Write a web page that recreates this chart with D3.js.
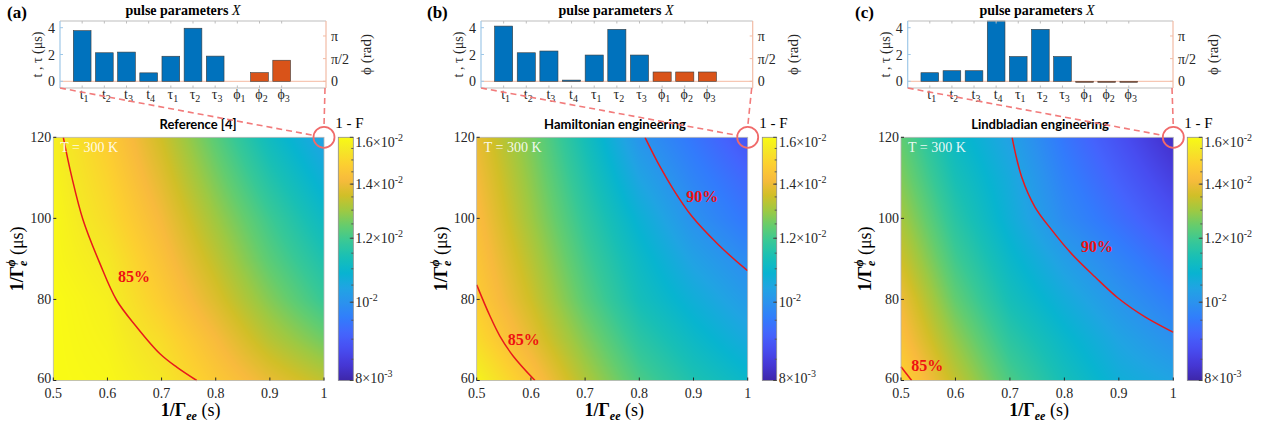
<!DOCTYPE html>
<html>
<head>
<meta charset="utf-8">
<script src="https://cdn.jsdelivr.net/npm/d3@7"></script>
<style>
body { margin: 0; background: #fff; }
text { font-family: "Liberation Serif", "Times New Roman", serif; fill: #262626; }
.sans { font-family: Lato, "Open Sans", sans-serif; }
</style>
</head>
<body>
<script>
// ---- data ----
var catBase = ["t", "t", "t", "t", "τ", "τ", "τ", "ϕ", "ϕ", "ϕ"];
var catSub = ["1", "2", "3", "4", "1", "2", "3", "1", "2", "3"];

// pulse durations (μs) for t1..t4, τ1..τ3 and phases (rad) for ϕ1..ϕ3
var timesA = [3.78, 2.13, 2.18, 0.63, 1.87, 3.96, 1.88];
var phasesA = [0, 0.6, 1.46];
var timesB = [4.12, 2.13, 2.26, 0.09, 1.96, 3.88, 1.96];
var phasesB = [0.645, 0.645, 0.645];
var timesC = [0.64, 0.79, 0.79, 5.0, 1.85, 3.88, 1.85];
var phasesC = [-0.06, -0.06, -0.06];

// 1 - F map (units of 1e-2), rows follow gridY, columns follow gridX
var gridX = [0.5, 0.6, 0.7, 0.8, 0.9, 1.0];
var gridY = [120, 110, 100, 90, 80, 70, 60];
var infidelityA = [
  [1.567, 1.472, 1.354, 1.230, 1.116, 1.034],
  [1.578, 1.493, 1.383, 1.264, 1.155, 1.070],
  [1.589, 1.514, 1.413, 1.300, 1.196, 1.108],
  [1.589, 1.546, 1.442, 1.336, 1.230, 1.147],
  [1.600, 1.567, 1.472, 1.374, 1.273, 1.187],
  [1.600, 1.578, 1.514, 1.422, 1.327, 1.255],
  [1.600, 1.589, 1.546, 1.462, 1.393, 1.336]
];
var infidelityB = [
  [1.393, 1.264, 1.131, 1.006, 0.945, 0.888],
  [1.413, 1.282, 1.155, 1.041, 0.971, 0.919],
  [1.432, 1.300, 1.179, 1.078, 0.998, 0.945],
  [1.452, 1.327, 1.204, 1.108, 1.034, 0.985],
  [1.472, 1.354, 1.230, 1.131, 1.070, 1.019],
  [1.514, 1.393, 1.273, 1.171, 1.108, 1.056],
  [1.578, 1.452, 1.318, 1.213, 1.147, 1.100]
];
var infidelityC = [
  [1.238, 1.108, 1.034, 0.945, 0.882, 0.822],
  [1.270, 1.135, 1.056, 0.965, 0.906, 0.851],
  [1.309, 1.165, 1.070, 0.985, 0.932, 0.882],
  [1.354, 1.200, 1.100, 1.026, 0.971, 0.919],
  [1.405, 1.240, 1.131, 1.063, 1.006, 0.958],
  [1.442, 1.290, 1.171, 1.100, 1.041, 0.998],
  [1.493, 1.340, 1.213, 1.131, 1.070, 1.041]
];

// contour lines [1/Γee (s), 1/Γφ (μs)]
var contourA85 = [[0.5185, 120], [0.534, 110.3], [0.555, 99.6], [0.586, 88.9], [0.617, 79.8], [0.654, 73.2], [0.697, 66.6], [0.728, 63.3], [0.765, 60]];
var contourB85 = [[0.5, 83.6], [0.5245, 75.9], [0.543, 70.9], [0.5675, 66], [0.6075, 60]];
var contourB90 = [[0.8105, 120], [0.838, 112.8], [0.863, 107.1], [0.897, 100.5], [0.946, 93.5], [0.998, 87.3], [1.0, 87.1]];
var contourC85 = [[0.5, 63.4], [0.5196, 60]];
var contourC90 = [[0.704, 120], [0.7216, 110.2], [0.746, 102.8], [0.777, 97.1], [0.813, 91.3], [0.856, 85.6], [0.899, 80.3], [0.948, 75.7], [0.997, 72.1], [1.0, 71.9]];

// contour labels [text, x, y]
var labelsA = [["85%", 0.649, 84.3]];
var labelsB = [["85%", 0.587, 68.8], ["90%", 0.916, 104.1]];
var labelsC = [["85%", 0.548, 62.3], ["90%", 0.860, 91.7]];

var heatXTicks = [0.5, 0.6, 0.7, 0.8, 0.9, 1];
var heatYTicks = [60, 80, 100, 120];
var cbTicks = [0.008, 0.01, 0.012, 0.014, 0.016];
var cbTickMant = ["8×10", "10", "1.2×10", "1.4×10", "1.6×10"];
var cbTickExp = ["-3", "-2", "-2", "-2", "-2"];
var timeTicks = [0, 2, 4];
var phaseTicks = [0, Math.PI / 2, Math.PI];
var phaseTickLabels = ["0", "π/2", "π"];

// parula(64) samples [index, r, g, b]
var parula = [
  [0, 0.2422, 0.1504, 0.6603], [4, 0.2706, 0.2147, 0.8364], [8, 0.2813, 0.3006, 0.9414],
  [12, 0.2699, 0.3892, 0.9906], [16, 0.1963, 0.4847, 0.9892], [20, 0.1687, 0.5703, 0.9359],
  [24, 0.1248, 0.6459, 0.8883], [28, 0.0297, 0.7082, 0.8163], [32, 0.0964, 0.7500, 0.7120],
  [36, 0.2161, 0.7843, 0.5923], [40, 0.3909, 0.8029, 0.4354], [44, 0.6174, 0.7876, 0.2612],
  [48, 0.8203, 0.7498, 0.1535], [52, 0.9728, 0.7298, 0.2394], [56, 0.9892, 0.8136, 0.1885],
  [60, 0.9597, 0.9135, 0.1423], [63, 0.9769, 0.9839, 0.0805]
];

// ---- layout ----
var panels = [
  { label: "(a)", labelX: 7, title: "Reference [4]", titleX: 198, barTitleX: 183, bar: [60, 326], heat: [53.3, 324], cb: [338.3, 353.3],
    times: timesA, phases: phasesA, grid: infidelityA, contours: [contourA85], labels: labelsA },
  { label: "(b)", labelX: 427, title: "Hamiltonian engineering", titleX: 615, barTitleX: 616, bar: [481, 752.7], heat: [476.7, 747.7], cb: [762.3, 776.7],
    times: timesB, phases: phasesB, grid: infidelityB, contours: [contourB85, contourB90], labels: labelsB },
  { label: "(c)", labelX: 855, title: "Lindbladian engineering", titleX: 1040, barTitleX: 1037, bar: [907.7, 1173], heat: [901, 1173.3], cb: [1187.3, 1202.3],
    times: timesC, phases: phasesC, grid: infidelityC, contours: [contourC85, contourC90], labels: labelsC }
];
var barTop = 21, barBottom = 88;
var heatTop = 137.3, heatBottom = 380.5;
var blue = "#0072bd", orange = "#d95319";

var svg = d3.select("body").append("svg")
  .attr("width", 1273).attr("height", 428);

var cmap = d3.scaleLinear()
  .domain(parula.map(function (d) { return d[0] / 63; }))
  .range(parula.map(function (d) { return d3.rgb(d[1] * 255, d[2] * 255, d[3] * 255); }))
  .interpolate(d3.interpolateRgb)
  .clamp(true);
var logPos = d3.scaleLog().domain([0.008, 0.016]).range([0, 1]).clamp(true);
function colorOf(v) { return cmap(logPos(v)); }

function fieldAt(grid, xv, yv) {
  var nx = gridX.length, ny = gridY.length;
  var fx = (xv - gridX[0]) / (gridX[1] - gridX[0]);
  var fy = (gridY[0] - yv) / (gridY[0] - gridY[1]);
  fx = Math.max(0, Math.min(nx - 1, fx));
  fy = Math.max(0, Math.min(ny - 1, fy));
  var i0 = Math.min(Math.floor(fx), nx - 2), j0 = Math.min(Math.floor(fy), ny - 2);
  var tx = fx - i0, ty = fy - j0;
  var a = Math.log(grid[j0][i0]), b = Math.log(grid[j0][i0 + 1]);
  var c = Math.log(grid[j0 + 1][i0]), d = Math.log(grid[j0 + 1][i0 + 1]);
  var top = a + (b - a) * tx, bot = c + (d - c) * tx;
  return Math.exp(top + (bot - top) * ty) * 1e-2;
}

panels.forEach(function (p) {
  var g = svg.append("g");

  // ---------- bar chart ----------
  var bx = d3.scaleLinear().domain([0, 12]).range(p.bar);
  var yT = d3.scaleLinear().domain([-0.5, 4.5]).range([barBottom, barTop]).clamp(true);
  var yP = d3.scaleLinear().domain([-0.465, 4.18]).range([barBottom, barTop]).clamp(true);
  var bw = (bx(1) - bx(0)) * 0.8;

  g.append("text").attr("x", p.labelX).attr("y", 18)
    .style("font-size", "17px").style("font-weight", "bold").style("fill", "#000").text(p.label);

  var tt = g.append("text").attr("x", p.barTitleX).attr("y", 15).attr("text-anchor", "middle")
    .style("font-size", "14px").style("font-weight", "bold").style("fill", "#000");
  tt.append("tspan").text("pulse parameters ");
  tt.append("tspan").style("font-style", "italic").style("font-weight", "normal").text("X");

  // zero line
  g.append("line").attr("x1", p.bar[0]).attr("x2", p.bar[1]).attr("y1", yT(0)).attr("y2", yT(0))
    .attr("stroke", "#f4b9a2").attr("stroke-width", 1);

  var bars = [];
  p.times.forEach(function (v, i) { bars.push({ i: i, v: v, y: yT, c: blue }); });
  p.phases.forEach(function (v, i) { bars.push({ i: i + 7, v: v, y: yP, c: orange }); });
  g.selectAll("rect.bar").data(bars.filter(function (d) { return d.v !== 0; })).enter().append("rect").attr("class", "bar")
    .attr("x", function (d) { return bx(d.i + 1) - bw / 2; })
    .attr("width", bw)
    .attr("y", function (d) { return Math.min(d.y(d.v), d.y(0)); })
    .attr("height", function (d) { return Math.max(1, Math.abs(d.y(d.v) - d.y(0))); })
    .attr("fill", function (d) { return d.c; })
    .attr("stroke", "#3c3c3c").attr("stroke-width", 0.6);

  // box
  g.append("line").attr("x1", p.bar[0]).attr("x2", p.bar[1]).attr("y1", barTop).attr("y2", barTop).attr("stroke", "#bdbdbd");
  g.append("line").attr("x1", p.bar[0]).attr("x2", p.bar[1]).attr("y1", barBottom).attr("y2", barBottom).attr("stroke", "#bdbdbd");
  g.append("line").attr("x1", p.bar[0]).attr("x2", p.bar[0]).attr("y1", barTop).attr("y2", barBottom).attr("stroke", "#9fc8e8").attr("stroke-width", 1.2);
  g.append("line").attr("x1", p.bar[1]).attr("x2", p.bar[1]).attr("y1", barTop).attr("y2", barBottom).attr("stroke", "#f2bba5").attr("stroke-width", 1.2);

  d3.range(1, 11).forEach(function (k) {
    g.append("line").attr("x1", bx(k)).attr("x2", bx(k)).attr("y1", barTop).attr("y2", barTop + 2.5).attr("stroke", "#bdbdbd");
    g.append("line").attr("x1", bx(k)).attr("x2", bx(k)).attr("y1", barBottom).attr("y2", barBottom - 2.5).attr("stroke", "#bdbdbd");
  });

  // category labels
  catBase.forEach(function (b, i) {
    var t = g.append("text").attr("x", bx(i + 1) + 2).attr("y", 99).attr("text-anchor", "middle").style("font-size", "14px");
    t.append("tspan").text(b);
    t.append("tspan").attr("dy", 3).style("font-size", "10px").text(catSub[i]);
  });

  // left axis
  timeTicks.forEach(function (v) {
    g.append("line").attr("x1", p.bar[0]).attr("x2", p.bar[0] + 3).attr("y1", yT(v)).attr("y2", yT(v)).attr("stroke", "#9fc8e8");
    g.append("text").attr("x", p.bar[0] - 5).attr("y", yT(v) + 5).attr("text-anchor", "end").style("font-size", "14px").text(v);
  });
  g.append("text").attr("transform", "translate(" + (p.bar[0] - 18) + "," + ((barTop + barBottom) / 2) + ") rotate(-90)")
    .attr("text-anchor", "middle").style("font-size", "14px").text("t , τ (μs)");

  // right axis
  phaseTicks.forEach(function (v, i) {
    g.append("line").attr("x1", p.bar[1]).attr("x2", p.bar[1] - 3).attr("y1", yP(v)).attr("y2", yP(v)).attr("stroke", "#f2bba5");
    g.append("text").attr("x", p.bar[1] + 5).attr("y", yP(v) + 5).style("font-size", "14px").text(phaseTickLabels[i]);
  });
  g.append("text").attr("transform", "translate(" + (p.bar[1] + 45) + "," + ((barTop + barBottom) / 2) + ") rotate(-90)")
    .attr("text-anchor", "middle").style("font-size", "15px").text("ϕ (rad)");

  // ---------- heat map ----------
  var hx = d3.scaleLinear().domain([0.5, 1]).range(p.heat);
  var hy = d3.scaleLinear().domain([60, 120]).range([heatBottom, heatTop]);
  var W = Math.round(p.heat[1] - p.heat[0]), H = Math.round(heatBottom - heatTop);
  var canvas = document.createElement("canvas");
  canvas.width = W; canvas.height = H;
  var ctx = canvas.getContext("2d");
  var img = ctx.createImageData(W, H);
  for (var j = 0; j < H; j++) {
    var yv = hy.invert(heatTop + (j + 0.5) * (heatBottom - heatTop) / H);
    for (var i = 0; i < W; i++) {
      var xv = hx.invert(p.heat[0] + (i + 0.5) * (p.heat[1] - p.heat[0]) / W);
      var c = d3.rgb(colorOf(fieldAt(p.grid, xv, yv)));
      var k = (j * W + i) * 4;
      img.data[k] = c.r; img.data[k + 1] = c.g; img.data[k + 2] = c.b; img.data[k + 3] = 255;
    }
  }
  ctx.putImageData(img, 0, 0);
  g.append("image").attr("x", p.heat[0]).attr("y", heatTop)
    .attr("width", p.heat[1] - p.heat[0]).attr("height", heatBottom - heatTop)
    .attr("preserveAspectRatio", "none").attr("href", canvas.toDataURL());

  var line = d3.line().x(function (d) { return hx(d[0]); }).y(function (d) { return hy(d[1]); }).curve(d3.curveCatmullRom);
  p.contours.forEach(function (cdata) {
    g.append("path").attr("d", line(cdata)).attr("fill", "none").attr("stroke", "#e8191c").attr("stroke-width", 1.5);
  });
  p.labels.forEach(function (l) {
    g.append("text").attr("x", hx(l[1])).attr("y", hy(l[2])).attr("text-anchor", "middle")
      .style("font-size", "16px").style("font-weight", "bold").style("fill", "#ee1111").text(l[0]);
  });

  g.append("text").attr("x", p.heat[0] + 7).attr("y", heatTop + 15).style("font-size", "14px")
    .style("fill", "#fff").style("fill-opacity", 0.9).text("T = 300 K");

  // axes box and ticks
  g.append("rect").attr("x", p.heat[0]).attr("y", heatTop).attr("width", p.heat[1] - p.heat[0]).attr("height", heatBottom - heatTop)
    .attr("fill", "none").attr("stroke", "#b5b5b5").attr("stroke-width", 0.8);
  heatXTicks.forEach(function (v) {
    g.append("line").attr("x1", hx(v)).attr("x2", hx(v)).attr("y1", heatBottom).attr("y2", heatBottom - 3).attr("stroke", "#262626");
    g.append("text").attr("x", hx(v)).attr("y", heatBottom + 17).attr("text-anchor", "middle").style("font-size", "14px").text(v);
  });
  heatYTicks.forEach(function (v) {
    g.append("line").attr("x1", p.heat[0]).attr("x2", p.heat[0] + 3).attr("y1", hy(v)).attr("y2", hy(v)).attr("stroke", "#262626");
    g.append("text").attr("x", p.heat[0] - 2).attr("y", Math.min(hy(v) + 5, heatBottom + 2)).attr("text-anchor", "end").style("font-size", "14px").text(v);
  });

  var xl = g.append("text").attr("x", (p.heat[0] + p.heat[1]) / 2 + 2).attr("y", 416).attr("text-anchor", "middle").style("font-size", "18px").style("fill", "#000");
  xl.append("tspan").style("font-weight", "bold").text("1/Γ");
  xl.append("tspan").attr("dy", 4).style("font-weight", "bold").style("font-style", "italic").style("font-size", "12px").text("ee");
  xl.append("tspan").attr("dy", -4).text(" (s)");

  var yl = g.append("text").attr("transform", "translate(" + (p.heat[0] - 30) + "," + ((heatTop + heatBottom) / 2) + ") rotate(-90)")
    .attr("text-anchor", "middle").style("font-size", "18px").style("fill", "#000");
  yl.append("tspan").style("font-weight", "bold").text("1/Γ");
  yl.append("tspan").attr("dy", 4).style("font-weight", "bold").style("font-style", "italic").style("font-size", "12px").text("e");
  yl.append("tspan").attr("dx", -6).attr("dy", -12).style("font-weight", "bold").style("font-style", "italic").style("font-size", "12px").text("ϕ");
  yl.append("tspan").attr("dy", 8).text(" (μs)");

  g.append("text").attr("class", "sans").attr("x", p.titleX).attr("y", 129).attr("text-anchor", "middle")
    .style("font-size", "13px").style("font-weight", "bold").style("fill", "#000").text(p.title);

  // ---------- colorbar ----------
  var gid = "cb" + p.label.charAt(1);
  var grad = svg.append("defs").append("linearGradient").attr("id", gid)
    .attr("x1", 0).attr("y1", 1).attr("x2", 0).attr("y2", 0);
  d3.range(0, 1.0001, 0.02).forEach(function (t) {
    grad.append("stop").attr("offset", t).attr("stop-color", cmap(t));
  });
  var cy = d3.scaleLog().domain([0.008, 0.016]).range([heatBottom, heatTop]);
  g.append("rect").attr("x", p.cb[0]).attr("y", heatTop).attr("width", p.cb[1] - p.cb[0]).attr("height", heatBottom - heatTop)
    .attr("fill", "url(#" + gid + ")").attr("stroke", "#8c8c8c").attr("stroke-width", 0.8);
  d3.range(0.0085, 0.0160, 0.0005).forEach(function (v) {
    g.append("line").attr("x1", p.cb[1]).attr("x2", p.cb[1] - 2).attr("y1", cy(v)).attr("y2", cy(v)).attr("stroke", "#555");
  });
  cbTicks.forEach(function (v, i) {
    g.append("line").attr("x1", p.cb[1]).attr("x2", p.cb[1] - 3.5).attr("y1", cy(v)).attr("y2", cy(v)).attr("stroke", "#444");
    var ty = Math.min(Math.max(cy(v) + 5, heatTop + 10), heatBottom + 2);
    var t = g.append("text").attr("x", p.cb[1] + 2).attr("y", ty).style("font-size", "14px");
    t.append("tspan").text(cbTickMant[i]);
    t.append("tspan").attr("dy", -6).style("font-size", "10px").text(cbTickExp[i]);
  });
  g.append("text").attr("x", p.cb[0] - 3).attr("y", 128).style("font-size", "15px").style("fill", "#000").text("1 - F");

  // ---------- zoom-in guides ----------
  var cx = hx(1), ccy = hy(120), r = 10.5;
  var sx = p.bar[0], sy = barBottom;
  var dx = cx - sx, dy = ccy - sy, len = Math.sqrt(dx * dx + dy * dy);
  g.append("line").attr("x1", sx).attr("y1", sy).attr("x2", cx - r * dx / len).attr("y2", ccy - r * dy / len)
    .attr("stroke", "#f27b7b").attr("stroke-width", 1.6).attr("stroke-dasharray", "6,4");
  g.append("line").attr("x1", p.bar[1] - 1).attr("y1", barBottom).attr("x2", cx).attr("y2", ccy - r)
    .attr("stroke", "#f27b7b").attr("stroke-width", 1.6).attr("stroke-dasharray", "6,4");
  g.append("circle").attr("cx", cx).attr("cy", ccy).attr("r", r)
    .attr("fill", "none").attr("stroke", "#f06a6a").attr("stroke-width", 1.8);
});
</script>
</body>
</html>
